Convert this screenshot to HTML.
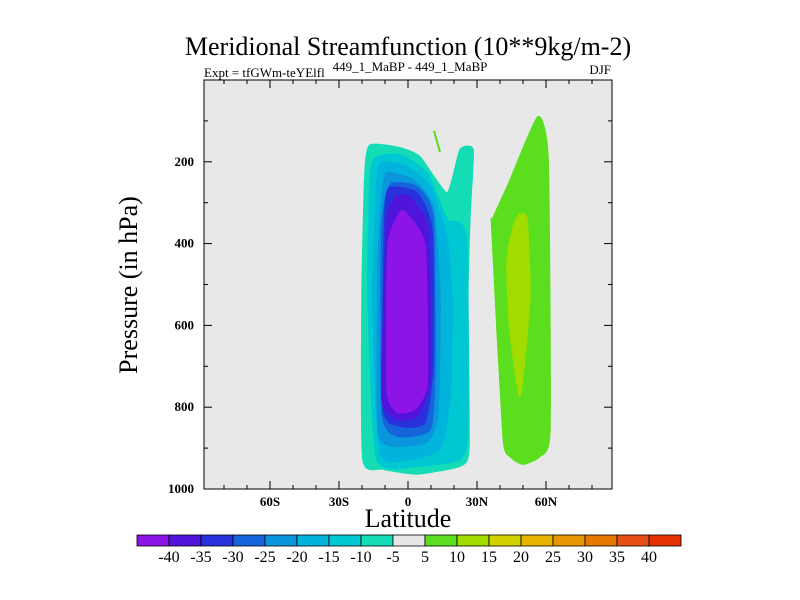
<!DOCTYPE html>
<html><head><meta charset="utf-8"><style>
html,body{margin:0;padding:0;background:#fff;}
svg{display:block;font-family:"Liberation Serif",serif;}
</style></head><body>
<svg id="chart" width="800" height="600" viewBox="0 0 800 600">
<text x="408" y="55" font-size="26" text-anchor="middle">Meridional Streamfunction (10**9kg/m-2)</text>
<text x="204" y="77" font-size="13">Expt = tfGWm-teYElfl</text>
<text x="410" y="71" font-size="13" text-anchor="middle">449_1_MaBP - 449_1_MaBP</text>
<text x="611" y="74" font-size="13" text-anchor="end">DJF</text>
<rect x="204" y="80" width="408" height="409" fill="#e8e8e8"/>
<g id="contours"></g>
<g id="axes"></g>
<text transform="translate(137,285) rotate(-90)" font-size="26" text-anchor="middle">Pressure (in hPa)</text>
<text x="408" y="527" font-size="26" text-anchor="middle">Latitude</text>
<g id="colorbar"></g>
</svg>
<script>
const latTicks=[-60,-30,0,30,60];
const latTickLabels=["60S","30S","0","30N","60N"];
const presTicks=[200,400,600,800,1000];
const cbLabels=[-40,-35,-30,-25,-20,-15,-10,-5,5,10,15,20,25,30,35,40];
const cbColors=["#8c14e6","#5014dc","#2832dc","#1464dc","#0a96dc","#00b4dc","#00c8d2","#14dcb4","#e6e6e6","#5ade1e","#a0dc00","#d2d200","#e6b400","#e69600","#e67800","#e65014","#e63200"];
// contour polygons: [lat, pressure] pairs
const levelNeg5=[[-16.5,159],[-3.5,166],[5.2,188],[17,276],[22.6,171],[28.3,171],[27,324],[26,529],[26.5,900],[22.6,944],[3.9,963],[-10.9,951],[-19.6,927],[-20,529],[-18.7,227]];
const levelNeg10=[[-14.3,190],[-3.5,183],[8.3,227],[17,341],[22.6,349],[25.7,407],[26,854],[22.6,927],[3.9,944],[-13.5,927],[-17.4,529],[-16.5,244]];
const levelNeg15=[[-11.3,202],[-0.4,212],[9.6,261],[17,390],[19.1,544],[18.3,773],[13.9,902],[0.9,927],[-12.2,910],[-15.2,529],[-13.5,244]];
const levelNeg20=[[-9.1,227],[2.2,244],[10.9,310],[13.9,529],[13,812],[8.3,885],[-6.5,895],[-13,854],[-13,446],[-10.9,268]];
const levelNeg25=[[-7.8,256],[3.9,261],[10.9,334],[11.7,690],[9.6,854],[-4.8,871],[-11.3,812],[-11.3,366]];
const levelNeg30=[[-7.8,263],[3.9,276],[10.4,366],[10.9,690],[7.4,837],[-3.5,846],[-10.9,798],[-10,324]];
const levelNeg35=[[-4.8,285],[0.9,288],[8.7,366],[9.6,732],[3.9,822],[-4.8,829],[-11.3,773],[-9.1,349]];
const levelNeg40=[[-3.5,324],[-0.4,329],[7.4,407],[8.3,739],[3,805],[-4.8,812],[-9.1,756],[-8.7,407]];
const levelPos5=[[56.5,90],[60.9,195],[61.7,854],[57.4,920],[50,939],[44.3,920],[41.3,871],[36.5,366],[36.8,340],[44,250]];
const levelPos10=[[48.7,329],[51.7,341],[53,529],[48.7,773],[44.3,610],[43,446],[45.7,359]];
const streakLine=[[11.3,124],[13.9,176]];

const NS="http://www.w3.org/2000/svg";
const X0=204,X1=612,Y0=80,Y1=489,LATMIN=-88.7,LATMAX=88.7;
function xs(lat){return X0+(lat-LATMIN)/(LATMAX-LATMIN)*(X1-X0);}
function ys(p){return Y0+p/1000*(Y1-Y0);}
function mk(tag,attrs,parent){const e=document.createElementNS(NS,tag);for(const k in attrs)e.setAttribute(k,attrs[k]);parent.appendChild(e);return e;}
function smoothPath(P){
  const n=P.length;let d='M'+P[0][0].toFixed(1)+','+P[0][1].toFixed(1);
  for(let i=0;i<n;i++){
    const p0=P[(i-1+n)%n],p1=P[i],p2=P[(i+1)%n],p3=P[(i+2)%n],t=0.28/3;
    const c1=[p1[0]+(p2[0]-p0[0])*t,p1[1]+(p2[1]-p0[1])*t];
    const c2=[p2[0]-(p3[0]-p1[0])*t,p2[1]-(p3[1]-p1[1])*t];
    d+='C'+c1.map(v=>v.toFixed(1)).join(',')+' '+c2.map(v=>v.toFixed(1)).join(',')+' '+p2.map(v=>v.toFixed(1)).join(',');
  }
  return d+'Z';
}
const cg=document.getElementById('contours');
const levels=[[levelNeg5,7,'contour-neg5'],[levelNeg10,6,'contour-neg10'],[levelNeg15,5,'contour-neg15'],[levelNeg20,4,'contour-neg20'],[levelNeg25,3,'contour-neg25'],[levelNeg30,2,'contour-neg30'],[levelNeg35,1,'contour-neg35'],[levelNeg40,0,'contour-neg40'],[levelPos5,9,'contour-pos5'],[levelPos10,10,'contour-pos10']];
levels.forEach(l=>{
  const P=l[0].map(d=>[xs(d[0]),ys(d[1])]);
  const e=mk('path',{d:smoothPath(P),fill:cbColors[l[1]],stroke:cbColors[l[1]],'stroke-width':1.5,'stroke-linejoin':'round'},cg);
  
  
});
const sl=mk('line',{x1:xs(streakLine[0][0]),y1:ys(streakLine[0][1]),x2:xs(streakLine[1][0]),y2:ys(streakLine[1][1]),stroke:cbColors[9],'stroke-width':2},cg);



const ag=document.getElementById('axes');
mk('rect',{x:X0,y:Y0,width:X1-X0,height:Y1-Y0,fill:'none',stroke:'#000','stroke-width':1},ag);
for(let lat=-80;lat<=80;lat+=10){
  const major=lat%30===0, len=major?8:4, x=xs(lat);
  mk('line',{x1:x,y1:Y1,x2:x,y2:Y1-len,stroke:'#000'},ag);
  mk('line',{x1:x,y1:Y0,x2:x,y2:Y0+len,stroke:'#000'},ag);
}
for(let p=100;p<1000;p+=100){
  const major=p%200===0, len=major?8:4, y=ys(p);
  mk('line',{x1:X0,y1:y,x2:X0+len,y2:y,stroke:'#000'},ag);
  mk('line',{x1:X1,y1:y,x2:X1-len,y2:y,stroke:'#000'},ag);
}
latTicks.forEach((lat,i)=>{
  const t=mk('text',{x:xs(lat),y:Y1+17,'font-size':13,'text-anchor':'middle','font-weight':'bold'},ag);
  t.textContent=latTickLabels[i];
  
  
});
presTicks.forEach(p=>{
  const t=mk('text',{x:X0-10,y:ys(p)+4,'font-size':13,'text-anchor':'end','font-weight':'bold'},ag);
  t.textContent=p;
  
  
});

const cb=document.getElementById('colorbar');
const CBX=137,CBW=544,CBY=535,CBH=11,bw=CBW/cbColors.length;
cbColors.forEach((c,i)=>{
  const r=mk('rect',{x:CBX+i*bw,y:CBY,width:bw,height:CBH,fill:c,stroke:'#000','stroke-width':0.8},cb);
  
  
});
cbLabels.forEach((v,i)=>{
  const t=mk('text',{x:CBX+(i+1)*bw,y:CBY+27,'font-size':16,'text-anchor':'middle'},cb);
  t.textContent=v;
  
  
});
</script>
</body></html>
